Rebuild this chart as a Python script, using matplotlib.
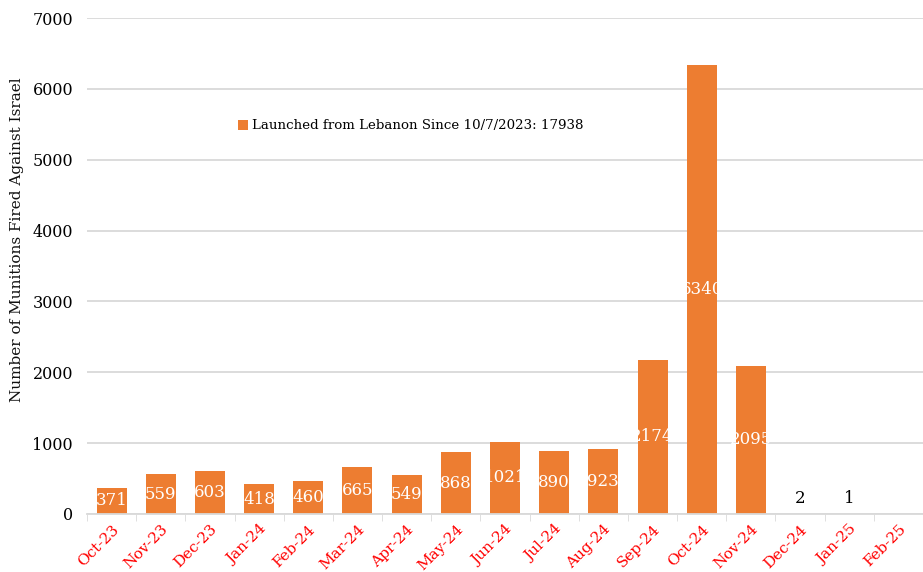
import matplotlib
matplotlib.use('Agg')
import matplotlib.pyplot as plt
import numpy as np

months = ['Oct-23', 'Nov-23', 'Dec-23', 'Jan-24', 'Feb-24', 'Mar-24', 'Apr-24', 'May-24',
          'Jun-24', 'Jul-24', 'Aug-24', 'Sep-24', 'Oct-24', 'Nov-24', 'Dec-24', 'Jan-25', 'Feb-25']
launched = [371, 559, 603, 418, 460, 665, 549, 868, 1021, 890, 923, 2174, 6340, 2095, 2, 1, 0]
legend_label = 'Launched from Lebanon Since 10/7/2023: 17938'

plt.rcParams['font.family'] = ['DejaVu Serif']

fig = plt.figure(figsize=(9.23, 5.72), dpi=100)
ax = fig.add_axes([87 / 923, 1 - 514 / 572, 1 - 87 / 923, (514 - 18) / 572])

x = np.arange(len(months))
bar_color = '#ED7D31'
ax.bar(x, launched, width=0.61, color=bar_color, label=legend_label, zorder=2)

# data labels: white in the middle of the bar, black above tiny bars
for xi, v in zip(x, launched):
    if v == 0:
        continue
    if v > 100:
        ax.text(xi, v / 2, str(v), ha='center', va='center', color='white', fontsize=12, zorder=3)
    else:
        ax.text(xi, 100, str(v), ha='center', va='bottom', color='black', fontsize=12, zorder=3)

ax.set_ylim(0, 7000)
ax.set_xlim(-0.5, 16.3)
ax.set_yticks(range(0, 7001, 1000))
ax.yaxis.grid(True, color='#D9D9D9', linewidth=1.3, zorder=0)
ax.set_axisbelow(True)

ax.set_xticks(x)
ax.set_xticklabels(months, rotation=45, ha='right', rotation_mode='anchor', color='red', fontsize=11)
ax.set_xticks(np.arange(-0.5, 16.6, 1), minor=True)
ax.tick_params(axis='x', which='major', length=0, pad=6)
ax.tick_params(axis='x', which='minor', length=5, color='#D9D9D9')
ax.tick_params(axis='y', length=0, labelsize=11.5, pad=10)

for s in ['top', 'right', 'left']:
    ax.spines[s].set_visible(False)
ax.spines['bottom'].set_color('#D9D9D9')
ax.spines['bottom'].set_linewidth(1.3)

fig.text(17 / 923, 1 - 240 / 572, 'Number of Munitions Fired Against Israel', rotation=90,
         ha='center', va='center', fontsize=11, color='#111111')

fig.legend(loc='center left', bbox_to_anchor=(233 / 923, 1 - 126 / 572), frameon=False,
           fontsize=9.6, handlelength=0.7, handleheight=0.7, handletextpad=0.3, borderaxespad=0)

plt.savefig('out.png', dpi=100)
